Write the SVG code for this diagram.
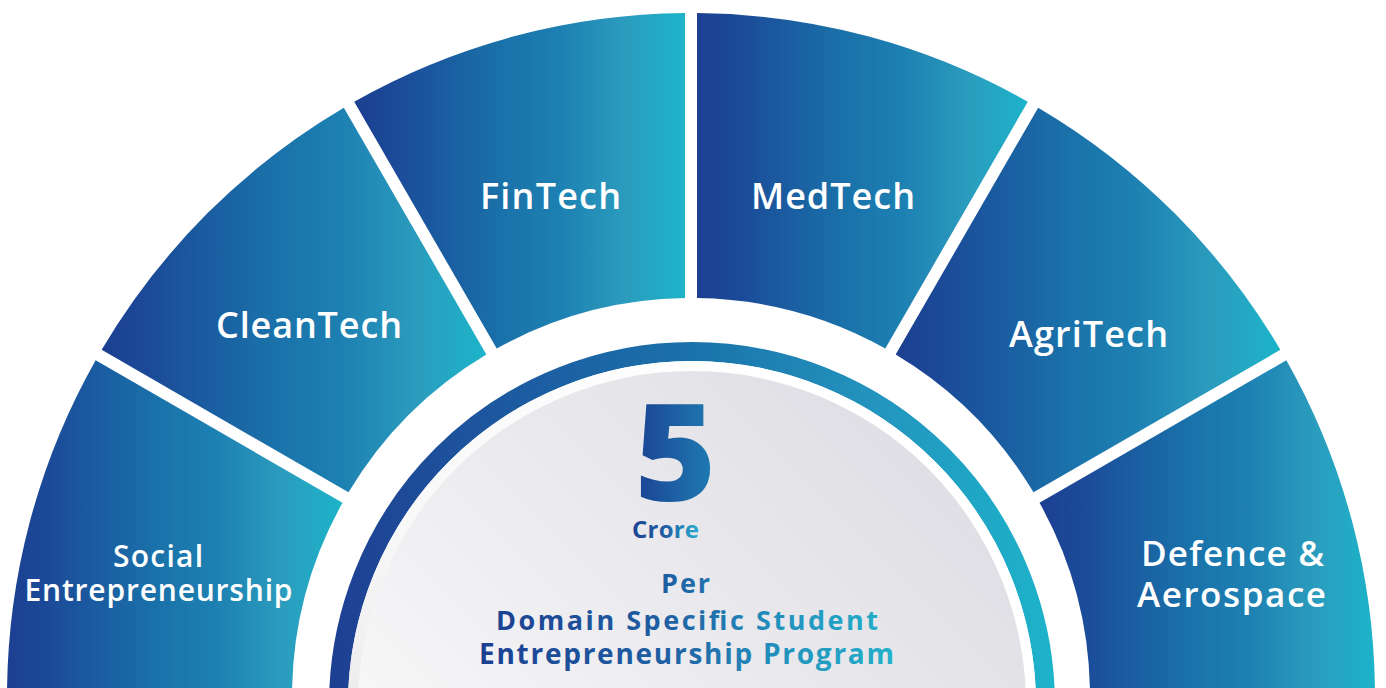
<svg xmlns="http://www.w3.org/2000/svg" width="1386" height="688" viewBox="0 0 1386 688">
  <defs>
    <linearGradient id="seg" x1="0" y1="0" x2="1" y2="0">
      <stop offset="0" stop-color="#1c3f91"/>
      <stop offset="0.12" stop-color="#1b4a98"/>
      <stop offset="0.45" stop-color="#1a72aa"/>
      <stop offset="0.62" stop-color="#1d80b2"/>
      <stop offset="0.82" stop-color="#2b9cbd"/>
      <stop offset="1" stop-color="#1cb4ca"/>
    </linearGradient>
    <linearGradient id="ring" gradientUnits="userSpaceOnUse" x1="329" y1="0" x2="1056" y2="0">
      <stop offset="0" stop-color="#1e3f92"/>
      <stop offset="0.25" stop-color="#1d5aa0"/>
      <stop offset="0.5" stop-color="#1a72aa"/>
      <stop offset="0.75" stop-color="#2394be"/>
      <stop offset="1" stop-color="#1db4ca"/>
    </linearGradient>
    <linearGradient id="rim" x1="0.1" y1="0.9" x2="0.8" y2="0.2">
      <stop offset="0" stop-color="#e2e2e4"/>
      <stop offset="0.45" stop-color="#f8f8f9"/>
      <stop offset="1" stop-color="#ffffff"/>
    </linearGradient>
    <linearGradient id="disc" x1="0.1" y1="0.9" x2="0.85" y2="0.15">
      <stop offset="0" stop-color="#fdfdfd"/>
      <stop offset="0.5" stop-color="#eeeef1"/>
      <stop offset="1" stop-color="#dfdfe5"/>
    </linearGradient>
    <linearGradient id="txt" gradientUnits="userSpaceOnUse" x1="480" y1="0" x2="893" y2="0">
      <stop offset="0" stop-color="#1b3f91"/>
      <stop offset="0.45" stop-color="#1e5fa3"/>
      <stop offset="0.72" stop-color="#2290bd"/>
      <stop offset="1" stop-color="#22b0ca"/>
    </linearGradient>
    <linearGradient id="five" gradientUnits="userSpaceOnUse" x1="636" y1="0" x2="715" y2="0">
      <stop offset="0" stop-color="#1b4394"/>
      <stop offset="1" stop-color="#1f7db2"/>
    </linearGradient>
    <linearGradient id="crore" gradientUnits="userSpaceOnUse" x1="632" y1="0" x2="699" y2="0">
      <stop offset="0" stop-color="#1c4394"/>
      <stop offset="0.5" stop-color="#1f5ea3"/>
      <stop offset="1" stop-color="#29acce"/>
    </linearGradient>
    <style>
      .seg { fill: url(#seg); }
      .lbl { font-family: "Open Sans", "Liberation Sans", sans-serif; font-weight: 600; fill: #ffffff; text-anchor: middle; }
      .big { font-size: 36px; }
      .small { font-size: 30px; }
      .mid { font-size: 35px; }
      .ctr { font-family: "Open Sans", "Liberation Sans", sans-serif; font-weight: 700; text-anchor: middle; fill: url(#txt); }
    </style>
  </defs>

  <g id="social-entrepreneurship">
    <path class="seg" d="M7,697 A684,684 0 0 1 95.67,360.21 L342.49,502.72 A399,399 0 0 0 292,697 Z"/>
    <text class="lbl small" x="158" y="567" textLength="90">Social</text>
    <text class="lbl small" x="158.5" y="601" textLength="268">Entrepreneurship</text>
  </g>
  <g id="cleantech">
    <path class="seg" d="M101.67,349.82 A684,684 0 0 1 343.82,107.67 L486.33,354.49 A399,399 0 0 0 348.49,492.33 Z"/>
    <text class="lbl big" x="309" y="338" textLength="186">CleanTech</text>
  </g>
  <g id="fintech">
    <path class="seg" d="M354.21,101.67 A684,684 0 0 1 685,13.03 L685,298.05 A399,399 0 0 0 496.72,348.49 Z"/>
    <text class="lbl big" x="550.5" y="209" textLength="141">FinTech</text>
  </g>
  <g id="medtech">
    <path class="seg" d="M697,13.03 A684,684 0 0 1 1027.79,101.67 L885.28,348.49 A399,399 0 0 0 697,298.05 Z"/>
    <text class="lbl big" x="833" y="209" textLength="164">MedTech</text>
  </g>
  <g id="agritech">
    <path class="seg" d="M1038.18,107.67 A684,684 0 0 1 1280.34,349.82 L1033.51,492.33 A399,399 0 0 0 895.67,354.49 Z"/>
    <text class="lbl big" x="1088.5" y="347" textLength="159">AgriTech</text>
  </g>
  <g id="defence-aerospace">
    <path class="seg" d="M1286.34,360.21 A684,684 0 0 1 1375,697 L1090,697 A399,399 0 0 0 1039.51,502.72 Z"/>
    <text class="lbl mid" x="1232.5" y="566" textLength="183">Defence &amp;</text>
    <text class="lbl mid" x="1231.5" y="607" textLength="189">Aerospace</text>
  </g>

  <g id="center">
    <circle cx="692" cy="705" r="353.5" fill="none" stroke="url(#ring)" stroke-width="19"/>
    <circle cx="692" cy="705" r="344" fill="url(#rim)"/>
    <circle cx="692" cy="705" r="334" fill="url(#disc)"/>
    <text x="675.5" y="501" font-family="'Open Sans', 'Liberation Sans', sans-serif" font-weight="800" font-size="134" text-anchor="middle" fill="url(#five)" textLength="82" lengthAdjust="spacingAndGlyphs">5</text>
    <text x="665.5" y="538" font-family="'Open Sans', 'Liberation Sans', sans-serif" font-weight="700" font-size="24" text-anchor="middle" fill="url(#crore)" textLength="67">Crore</text>
    <text class="ctr" x="685.5" y="593" font-size="27" textLength="49">Per</text>
    <text class="ctr" x="687" y="630" font-size="27" textLength="382">Domain Specific Student</text>
    <text class="ctr" x="686.5" y="664" font-size="28" textLength="415">Entrepreneurship Program</text>
  </g>
</svg>
